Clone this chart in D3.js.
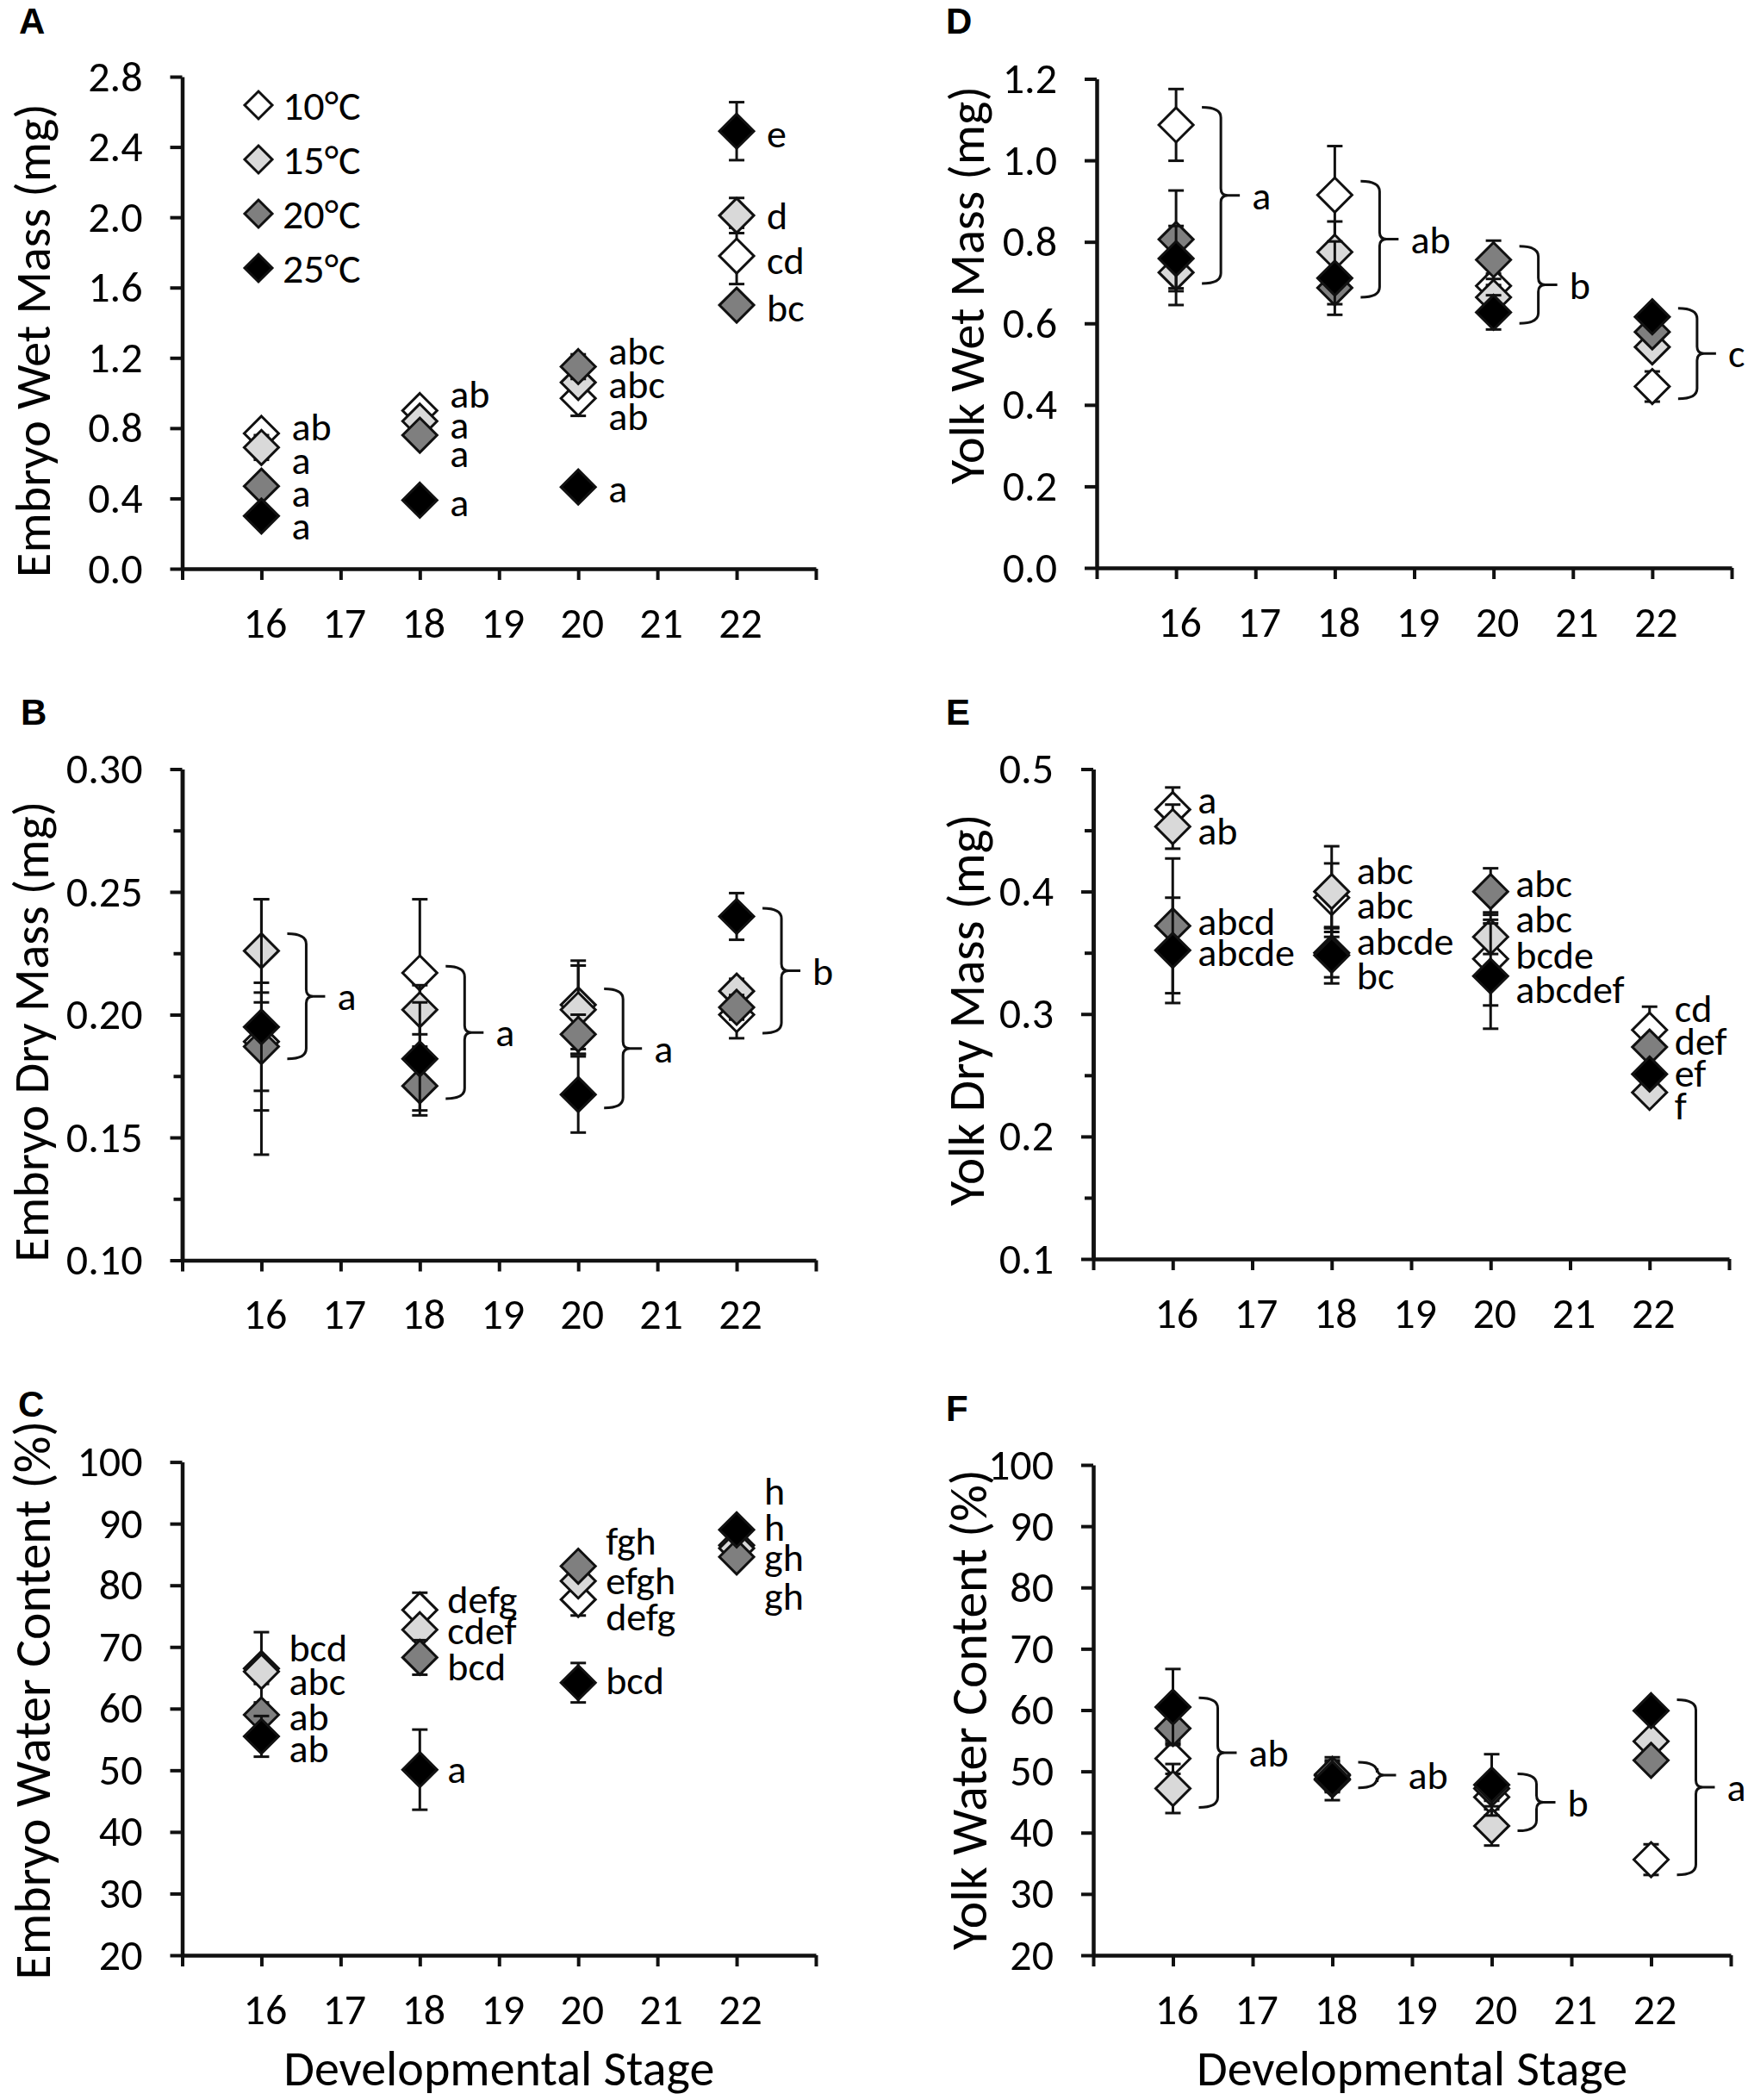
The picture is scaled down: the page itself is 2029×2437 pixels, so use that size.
<!DOCTYPE html>
<html>
<head>
<meta charset="utf-8">
<script src="https://cdn.jsdelivr.net/npm/d3@7"></script>
<style>
  body { margin: 0; background: #fff; }
  text { font-family: Carlito, Calibri, Lato, sans-serif; fill: #000; }
  text.tag { font-family: "Liberation Sans", Arial, sans-serif; font-weight: bold; }
</style>
</head>
<body>
<svg id="fig" width="2029" height="2437"></svg>
<script>
// ---- shared categories ----
const stages = [16, 18, 20, 22];
const stageTicks = [15, 16, 17, 18, 19, 20, 21, 22, 23];
const stageLabels = [16, 17, 18, 19, 20, 21, 22];
const temps = ["10°C", "15°C", "20°C", "25°C"];

// ---- A: embryo wet mass (rows = temperature, cols = stage) ----
const embryoWetMean = [[0.77, 0.90, 0.97, 1.78], [0.69, 0.84, 1.06, 2.01], [0.47, 0.76, 1.15, 1.50], [0.30, 0.39, 0.465, 2.49]];
const embryoWetErr = [[0.03, 0.03, 0.10, 0.16], [0.07, 0.03, 0.04, 0.10], [0.03, 0.03, 0.07, 0.04], [0.03, 0.03, 0.03, 0.165]];
const embryoWetTicks = [0, 0.4, 0.8, 1.2, 1.6, 2.0, 2.4, 2.8];
// letters per stage, top to bottom, with the value they sit at
const embryoWetLetters = [["ab", "a", "a", "a"], ["ab", "a", "a", "a"], ["abc", "abc", "ab", "a"], ["e", "d", "cd", "bc"]];
const embryoWetLetterAt = [[0.81, 0.62, 0.43, 0.245], [0.995, 0.82, 0.66, 0.38], [1.24, 1.05, 0.87, 0.456], [2.475, 2.01, 1.755, 1.485]];

// ---- B: embryo dry mass ----
const embryoDryMean = [[0.189, 0.217, 0.204, 0.200], [0.226, 0.202, 0.202, 0.2096], [0.187, 0.171, 0.192, 0.203], [0.195, 0.182, 0.1675, 0.240]];
const embryoDryErr = [[0.020, 0.030, 0.018, 0.0096], [0.021, 0.010, 0.018, 0.005], [0.026, 0.010, 0.008, 0.005], [0.052, 0.023, 0.0155, 0.0095]];
const embryoDryTicks = [0.10, 0.15, 0.20, 0.25, 0.30];
const embryoDryMinor = [0.125, 0.175, 0.225, 0.275];
const embryoDryBrackets = [[0.182, 0.233], [0.1658, 0.2197], [0.162, 0.2105], [0.1925, 0.2433]];
const embryoDryGroups = ["a", "a", "a", "b"];

// ---- C: embryo water content ----
const embryoWaterMean = [[66.5, 76.0, 77.7, 86.5], [66.0, 72.8, 80.7, 86.0], [59.0, 68.3, 83.1, 84.6], [55.5, 50.1, 64.2, 89.0]];
const embryoWaterErr = [[5.9, 2.8, 2.6, 1.0], [2.0, 1.5, 1.5, 1.0], [2.0, 2.8, 1.5, 1.0], [3.3, 6.5, 3.2, 1.0]];
const waterTicks = [20, 30, 40, 50, 60, 70, 80, 90, 100];
const embryoWaterLetters = [["bcd", "abc", "ab", "ab"], ["defg", "cdef", "bcd", "a"], ["fgh", "efgh", "defg", "bcd"], ["h", "h", "gh", "gh"]];
const embryoWaterLetterAt = [[69.9, 64.4, 58.7, 53.5], [77.7, 72.7, 66.8, 50.2], [87.2, 80.8, 74.9, 64.6], [95.3, 89.5, 84.6, 78.3]];

// ---- D: yolk wet mass ----
const yolkWetMean = [[1.087, 0.915, 0.692, 0.445], [0.725, 0.775, 0.664, 0.542], [0.806, 0.687, 0.756, 0.579], [0.759, 0.711, 0.627, 0.616]];
const yolkWetErr = [[0.088, 0.12, 0.03, 0.037], [0.08, 0.075, 0.03, 0.02], [0.12, 0.04, 0.047, 0.02], [0.08, 0.09, 0.042, 0.02]];
const yolkWetTicks = [0, 0.2, 0.4, 0.6, 0.8, 1.0, 1.2];
const yolkWetBrackets = [[0.698, 1.13], [0.664, 0.949], [0.60, 0.789], [0.415, 0.637]];
const yolkWetGroups = ["a", "ab", "b", "c"];

// ---- E: yolk dry mass ----
const yolkDryMean = [[0.467, 0.395, 0.345, 0.287], [0.453, 0.400, 0.363, 0.236], [0.372, 0.350, 0.400, 0.273], [0.352, 0.348, 0.331, 0.251]];
const yolkDryErr = [[0.018, 0.028, 0.038, 0.019], [0.018, 0.037, 0.014, 0.008], [0.055, 0.02, 0.019, 0.008], [0.043, 0.023, 0.043, 0.008]];
const yolkDryTicks = [0.1, 0.2, 0.3, 0.4, 0.5];
const yolkDryMinor = [0.15, 0.25, 0.35, 0.45];
const yolkDryLetters = [["a", "ab", "abcd", "abcde"], ["abc", "abc", "abcde", "bc"], ["abc", "abc", "bcde", "abcdef"], ["cd", "def", "ef", "f"]];
const yolkDryLetterAt = [[0.4754, 0.4497, 0.376, 0.3505], [0.4173, 0.389, 0.360, 0.3315], [0.4068, 0.378, 0.3487, 0.3205], [0.3047, 0.2783, 0.252, 0.2255]];

// ---- F: yolk water content ----
const yolkWaterMean = [[52.1, 49.3, 45.8, 35.6], [47.2, 48.6, 41.1, 54.9], [57.0, 49.5, 47.2, 51.8], [60.5, 48.8, 47.8, 59.9]];
const yolkWaterErr = [[2.5, 2.5, 2.0, 2.5], [4.0, 2.0, 3.2, 1.5], [2.0, 2.0, 2.0, 1.5], [6.2, 3.5, 5.0, 1.5]];
const yolkWaterBrackets = [[44.1, 62.0], [47.3, 51.5], [40.3, 49.6], [33.1, 61.7]];
const yolkWaterGroups = ["ab", "ab", "b", "a"];

// ---- styling ----
const fills = ["#ffffff", "#d9d9d9", "#7f7f7f", "#000000"];
const ink = "#111";
const svg = d3.select("#fig");

function diamond(r) {
    return `M0,${-r}L${r},0L0,${r}L${-r},0Z`;
}

function drawPanel(p) {
    const g = svg.append("g");
    const x = d3.scaleLinear().domain([15, 23]).range(p.xr);
    const y = d3.scaleLinear().domain(p.domain).range(p.yr);

    // Axes
    g.append("g")
        .attr("transform", `translate(${p.xr[0]},0)`)
        .call(d3.axisLeft(y).tickValues(p.ticks).tickFormat(d3.format(p.fmt)).tickSize(14).tickSizeOuter(0).tickPadding(32));
    if (p.minor) {
        g.append("g")
            .attr("transform", `translate(${p.xr[0]},0)`)
            .call(d3.axisLeft(y).tickValues(p.minor).tickFormat("").tickSize(10).tickSizeOuter(0));
    }
    const xAxis = g.append("g")
        .attr("transform", `translate(0,${p.yr[0]})`)
        .call(d3.axisBottom(x).tickValues(stageTicks).tickFormat(d => stageLabels.includes(d) ? d : "")
            .tickSize(13).tickSizeOuter(0).tickPadding(31));
    g.selectAll(".domain").attr("stroke", ink).attr("stroke-width", 4.5);
    g.selectAll(".tick line").attr("stroke", ink).attr("stroke-width", 4);
    g.selectAll(".tick text").attr("font-size", 50).attr("font-family", null).attr("fill", "#000");
    xAxis.selectAll(".tick text").attr("dx", 4);

    // Y label (rotated), fitted to the length it has in the figure
    const yl = g.append("text")
        .attr("transform", `translate(${p.labelX},${p.labelY}) rotate(-90)`)
        .attr("text-anchor", "middle")
        .attr("font-size", 58)
        .text(p.yLabel);
    const w = yl.node().getComputedTextLength();
    yl.attr("font-size", 58 * p.labelLen / w);

    // Panel letter
    g.append("text").attr("class", "tag").attr("x", p.tagX).attr("y", p.tagY)
        .attr("font-size", 42).text(p.tag);

    // Series: error bars then markers, in temperature order
    p.mean.forEach((row, t) => {
        const s = g.append("g");
        row.forEach((m, i) => {
            const e = p.err[t][i];
            const cx = x(stages[i]);
            s.append("line").attr("x1", cx).attr("x2", cx).attr("y1", y(m - e)).attr("y2", y(m + e))
                .attr("stroke", ink).attr("stroke-width", 3);
            [m - e, m + e].forEach(v => {
                s.append("line").attr("x1", cx - 9).attr("x2", cx + 9).attr("y1", y(v)).attr("y2", y(v))
                    .attr("stroke", ink).attr("stroke-width", 3);
            });
        });
        s.selectAll("path.mk").data(row).join("path")
            .attr("class", "mk")
            .attr("d", diamond(20))
            .attr("transform", (d, i) => `translate(${x(stages[i])},${y(d)})`)
            .attr("fill", fills[t]).attr("stroke", ink).attr("stroke-width", 3)
            .attr("stroke-linejoin", "miter");
    });

    // Letters next to points
    if (p.letters) {
        p.letters.forEach((col, i) => {
            col.forEach((txt, k) => {
                g.append("text")
                    .attr("x", x(stages[i]) + p.letterDx)
                    .attr("y", y(p.letterAt[i][k]))
                    .attr("dy", "0.35em")
                    .attr("font-size", 46)
                    .text(txt);
            });
        });
    }

    // Curly brackets with group letters
    if (p.brackets) {
        p.brackets.forEach((b, i) => {
            const cx = x(stages[i]);
            const xs = cx + 30, xv = cx + 52, xt = cx + 74;
            const yT = y(b[1]), yB = y(b[0]), ym = (yT + yB) / 2;
            const path = `M${xs},${yT}Q${xv},${yT} ${xv},${yT + 12}L${xv},${ym - 8}Q${xv},${ym} ${xv + 8},${ym}L${xt},${ym}`
                + `M${xv + 8},${ym}Q${xv},${ym} ${xv},${ym + 8}L${xv},${yB - 12}Q${xv},${yB} ${xs},${yB}`;
            g.append("path").attr("d", path).attr("fill", "none").attr("stroke", ink).attr("stroke-width", 3);
            g.append("text").attr("x", cx + 88).attr("y", ym).attr("dy", "0.35em")
                .attr("font-size", 46).text(p.groups[i]);
        });
    }

    if (p.xLabel) {
        const xl = g.append("text")
            .attr("x", (p.xr[0] + p.xr[1]) / 2).attr("y", p.yr[0] + 151)
            .attr("text-anchor", "middle").attr("font-size", 58).text(p.xLabel);
        const wx = xl.node().getComputedTextLength();
        xl.attr("font-size", 58 * 500 / wx);
    }
    return {g, x, y};
}

const A = drawPanel({
    tag: "A", tagX: 22, tagY: 39, mean: embryoWetMean, err: embryoWetErr,
    xr: [211.5, 947], yr: [660, 89], domain: [0, 2.8], ticks: embryoWetTicks, fmt: ".1f",
    yLabel: "Embryo Wet Mass (mg)", labelX: 58, labelY: 395, labelLen: 550,
    letters: embryoWetLetters, letterAt: embryoWetLetterAt, letterDx: 35
});
drawPanel({
    tag: "B", tagX: 24, tagY: 841, mean: embryoDryMean, err: embryoDryErr,
    xr: [211.5, 947], yr: [1462.5, 892.5], domain: [0.10, 0.30], ticks: embryoDryTicks, minor: embryoDryMinor, fmt: ".2f",
    yLabel: "Embryo Dry Mass (mg)", labelX: 56, labelY: 1197, labelLen: 535,
    brackets: embryoDryBrackets, groups: embryoDryGroups
});
drawPanel({
    tag: "C", tagX: 21, tagY: 1644, mean: embryoWaterMean, err: embryoWaterErr,
    xr: [211.5, 947], yr: [2269, 1696.6], domain: [20, 100], ticks: waterTicks, fmt: "d",
    yLabel: "Embryo Water Content (%)", labelX: 58, labelY: 1973, labelLen: 649,
    letters: embryoWaterLetters, letterAt: embryoWaterLetterAt, letterDx: 32,
    xLabel: "Developmental Stage"
});
drawPanel({
    tag: "D", tagX: 1098, tagY: 39, mean: yolkWetMean, err: yolkWetErr,
    xr: [1273, 2010], yr: [659, 91.5], domain: [0, 1.2], ticks: yolkWetTicks, fmt: ".1f",
    yLabel: "Yolk Wet Mass (mg)", labelX: 1142, labelY: 331, labelLen: 462,
    brackets: yolkWetBrackets, groups: yolkWetGroups
});
drawPanel({
    tag: "E", tagX: 1098, tagY: 841, mean: yolkDryMean, err: yolkDryErr,
    xr: [1269, 2007], yr: [1461, 892.5], domain: [0.1, 0.5], ticks: yolkDryTicks, minor: yolkDryMinor, fmt: ".1f",
    yLabel: "Yolk Dry Mass (mg)", labelX: 1142, labelY: 1172, labelLen: 455,
    letters: yolkDryLetters, letterAt: yolkDryLetterAt, letterDx: 29
});
drawPanel({
    tag: "F", tagX: 1098, tagY: 1649, mean: yolkWaterMean, err: yolkWaterErr,
    xr: [1269, 2009], yr: [2269, 1700], domain: [20, 100], ticks: waterTicks, fmt: "d",
    yLabel: "Yolk Water Content (%)", labelX: 1145, labelY: 1984, labelLen: 558,
    brackets: yolkWaterBrackets, groups: yolkWaterGroups,
    xLabel: "Developmental Stage"
});

// Legend inside panel A
const legend = A.g.append("g");
temps.forEach((t, i) => {
    const row = legend.append("g").attr("transform", `translate(300,${122 + i * 63})`);
    row.append("path").attr("d", diamond(16)).attr("fill", fills[i]).attr("stroke", ink).attr("stroke-width", 3);
    row.append("text").attr("x", 28).attr("dy", "0.35em").attr("font-size", 48).text(t);
});
</script>
</body>
</html>
